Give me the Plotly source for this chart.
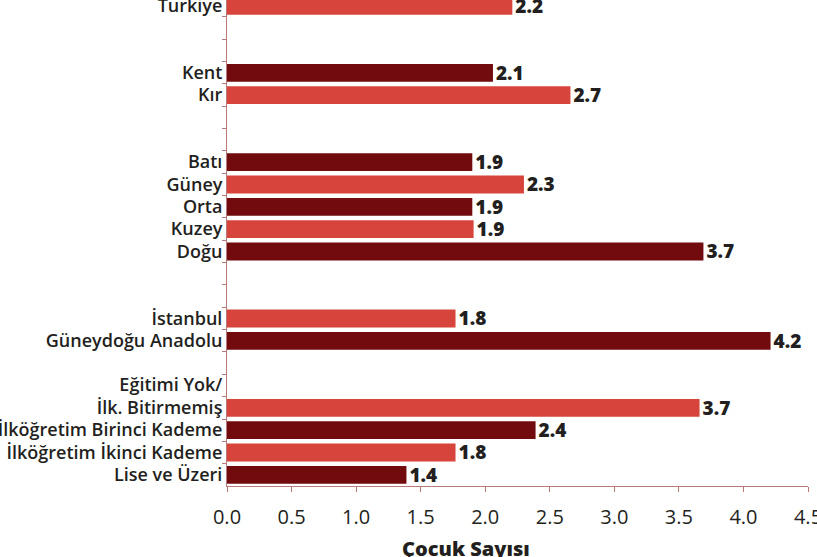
import plotly.graph_objects as go

# groups of the chart, top to bottom
groups = [
    ["Türkiye"],
    ["Kent", "Kır"],
    ["Batı", "Güney", "Orta", "Kuzey", "Doğu"],
    ["İstanbul", "Güneydoğu Anadolu"],
    ["Eğitimi Yok/<br>İlk. Bitirmemiş<br> ", "İlköğretim Birinci Kademe",
     "İlköğretim İkinci Kademe", "Lise ve Üzeri"],
]
group_values = [
    [2.21],
    [2.06, 2.66],
    [1.90, 2.30, 1.90, 1.91, 3.69],
    [1.77, 4.21],
    [3.66, 2.39, 1.77, 1.39],
]

DARK = "#720b0d"
LIGHT = "#d6443b"
TEXT = "#231f20"
AXIS = "#b77a78"

# build the category list with two empty slots between groups
cats, vals, colors = [], [], []
n = 0
for gi, (names, values) in enumerate(zip(groups, group_values)):
    if gi > 0:
        for k in range(2):
            cats.append(" " * (gi * 2 + k + 1))
            vals.append(None)
            colors.append(LIGHT)
    for name, v in zip(names, values):
        cats.append(name)
        vals.append(v)
        colors.append(LIGHT if n % 2 == 0 else DARK)
        n += 1

fig = go.Figure()
fig.add_trace(go.Bar(
    y=cats,
    x=vals,
    orientation="h",
    width=0.8,
    marker=dict(color=colors, line=dict(width=0)),
    texttemplate="%{x:.1f}",
    textposition="outside",
    constraintext="none",
    cliponaxis=False,
    textfont=dict(family="Open Sans", size=19, color=TEXT, weight=800),
    hoverinfo="skip",
))

fig.update_layout(
    width=817,
    height=557,
    margin=dict(l=227, r=9, t=0, b=71),
    plot_bgcolor="white",
    paper_bgcolor="white",
    showlegend=False,
    bargap=0.2,
)

fig.update_yaxes(
    type="category",
    categoryorder="array",
    categoryarray=cats,
    range=[len(cats) - 0.5, -0.26],
    tickmode="linear",
    tick0=0,
    dtick=1,
    automargin=False,
    showline=True,
    linecolor=AXIS,
    linewidth=1,
    ticks="outside",
    tickson="boundaries",
    ticklen=4,
    tickcolor=AXIS,
    showgrid=False,
    tickfont=dict(family="Open Sans", size=18, color=TEXT, weight=600),
)

fig.update_xaxes(
    range=[0, 4.5],
    dtick=0.5,
    tickformat=".1f",
    automargin=False,
    ticklabeloverflow="allow",
    showline=True,
    linecolor=AXIS,
    linewidth=1,
    ticks="outside",
    ticklen=5,
    tickcolor=AXIS,
    showgrid=False,
    zeroline=False,
    ticklabelstandoff=8,
    tickfont=dict(family="Open Sans", size=20, color=TEXT),
)

fig.add_annotation(
    text="Çocuk Sayısı",
    xref="paper", yref="paper",
    x=0.411, y=-0.128,
    xanchor="center", yanchor="middle",
    showarrow=False,
    font=dict(family="Open Sans", size=20, color=TEXT, weight=800),
)

# drop the browser's default body margin so the chart sits at the page corner
fig.write_html("out.html", config={"displayModeBar": False},
               post_script="document.body.style.margin='0';")
